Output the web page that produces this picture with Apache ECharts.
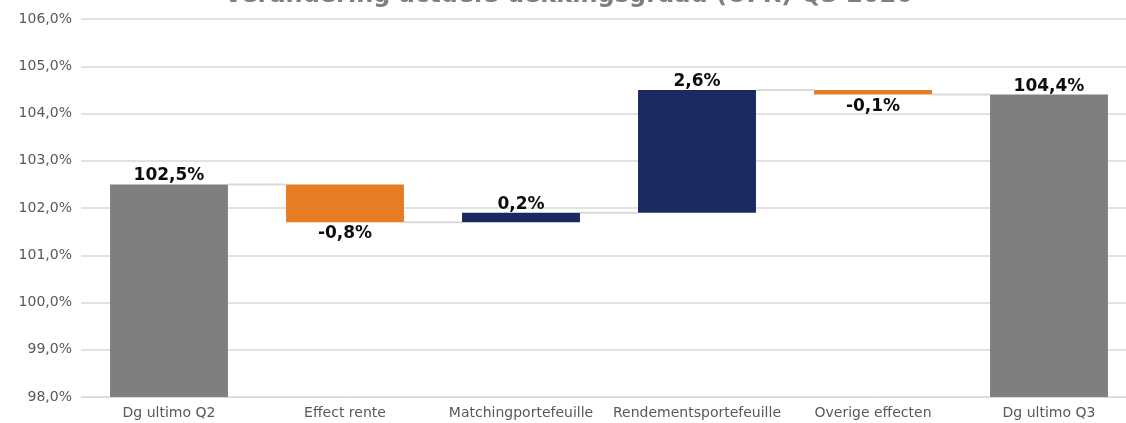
<!DOCTYPE html>
<html>
<head>
<meta charset="utf-8">
<script src="https://cdn.jsdelivr.net/npm/echarts@6/dist/echarts.min.js"></script>
<style>
  html, body { margin: 0; padding: 0; background: #fff; overflow: hidden; }
  #chart { width: 1137px; height: 423px; }
</style>
</head>
<body>
<div id="chart"></div>
<script>
// waterfall dekkingsgraad
var categories = ["Dg ultimo Q2", "Effect rente", "Matchingportefeuille", "Rendementsportefeuille", "Overige effecten", "Dg ultimo Q3"];
var startValue = 102.5;
var changes = [-0.8, 0.2, 2.6, -0.1];
var endValue = 104.4;
var yTicks = [98, 99, 100, 101, 102, 103, 104, 105, 106];

(function () {
  var myChart = echarts.init(document.getElementById("chart"));
  const grey = "#7f7f7f";
  const orange = "#e67d25";
  const navy = "#1b2961";
  const fmt = (v) => v.toFixed(1).replace(".", ",") + "%";

  // onzichtbare basis + zichtbare balk
  var base = [0];
  var visible = [{ value: startValue, raw: startValue, itemStyle: { color: grey } }];
  var levels = [startValue];
  var run = startValue;
  changes.forEach(function (c) {
    var next = Math.round((run + c) * 10) / 10;
    base.push(Math.min(run, next));
    visible.push({
      value: Math.abs(c),
      raw: c,
      itemStyle: { color: c < 0 ? orange : navy },
      label: c < 0 ? { position: "bottom", distance: 3 } : { position: "top" },
    });
    run = next;
    levels.push(run);
  });
  base.push(0);
  visible.push({ value: endValue, raw: endValue, itemStyle: { color: grey } });
  var connectors = levels.map(function (v, i) {
    return [i, v];
  });

  var barRatio = 0.67;
  var option = {
    animation: false,
    title: {
      text: "Verandering actuele dekkingsgraad (UFR) Q3 2020",
      left: 219,
      top: -21,
      textStyle: {
        fontFamily: "DejaVu Sans",
        fontWeight: "bold",
        fontSize: 24,
        color: "#7f7f7f",
      },
    },
    grid: {
      left: 81,
      top: 19,
      right: 0,
      bottom: 26,
    },
    xAxis: {
      type: "category",
      data: categories,
      axisLine: { show: true, lineStyle: { color: "#d9d9d9", width: 1 } },
      axisTick: { show: false },
      axisLabel: {
        interval: 0,
        margin: 9,
        fontFamily: "DejaVu Sans",
        fontSize: 14,
        color: "#595959",
      },
    },
    yAxis: {
      type: "value",
      min: 98,
      max: 106,
      interval: 1,
      axisLine: { show: false },
      axisTick: { show: false },
      splitLine: { lineStyle: { color: "#d9d9d9", width: 1.5 } },
      axisLabel: {
        margin: 9,
        fontFamily: "DejaVu Sans",
        fontSize: 14,
        color: "#595959",
        formatter: function (v) {
          return yTicks.indexOf(v) >= 0 ? fmt(v) : "";
        },
      },
    },
    series: [
      {
        type: "custom",
        z: 1,
        silent: true,
        data: connectors,
        renderItem: function (params, api) {
          var p = api.coord([api.value(0), api.value(1)]);
          var band = api.size([1, 0])[0];
          var half = (band * barRatio) / 2;
          return {
            type: "line",
            shape: { x1: p[0] + half, y1: p[1], x2: p[0] + band - half, y2: p[1] },
            style: { stroke: "#d9d9d9", lineWidth: 2 },
          };
        },
      },
      {
        type: "bar",
        stack: "wf",
        z: 2,
        data: base,
        barWidth: barRatio * 100 + "%",
        itemStyle: { color: "transparent" },
        silent: true,
      },
      {
        type: "bar",
        stack: "wf",
        z: 2,
        data: visible,
        barWidth: barRatio * 100 + "%",
        label: {
          show: true,
          position: "top",
          distance: 0,
          fontFamily: "DejaVu Sans",
          fontWeight: "bold",
          fontSize: 17,
          color: "#0d0d0d",
          formatter: function (p) {
            return fmt(p.data.raw);
          },
        },
      },
    ],
  };

  myChart.setOption(option);
  window.addEventListener("resize", function () {
    myChart.resize();
  });
})();
</script>
</body>
</html>
